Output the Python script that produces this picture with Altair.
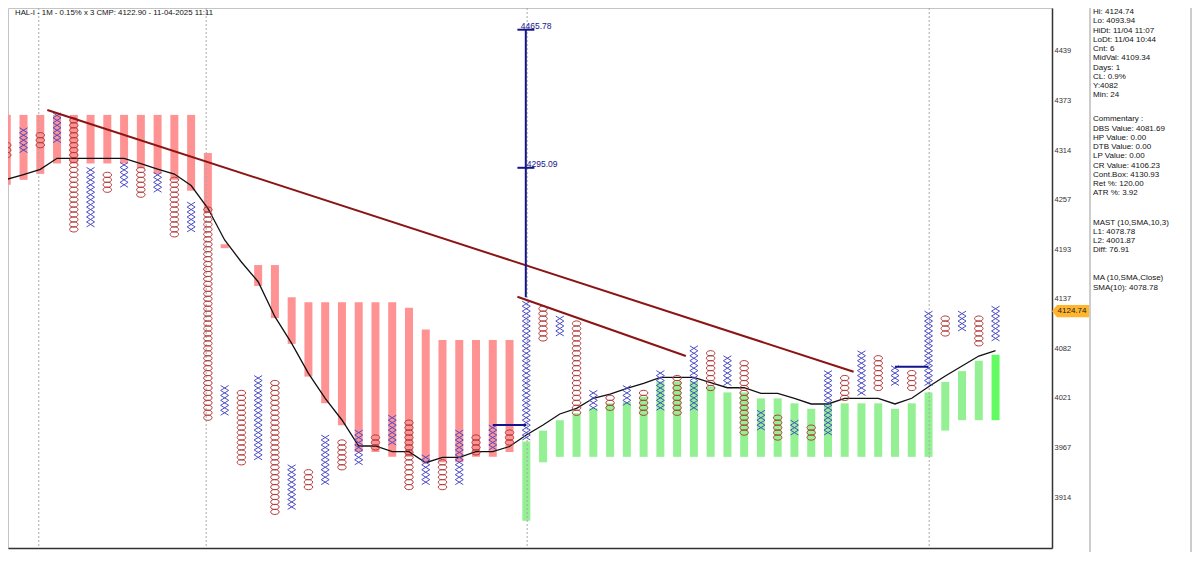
import altair as alt
import pandas as pd
import numpy as np

# ---------------- data ----------------
col_type = ["O", "X"] * 30
col_low = [69, 70, 71, 72, 54, 55, 62, 63, 61, 62, 53, 54, 16, 17, 7, 8, -3, -2, 2, 3,
           6, 7, 10, 11, 2, 3, 2, 3, 9, 10, 11, 12, 32, 33, 17, 18, 18, 19, 17, 18,
           17, 18, 22, 23, 13, 14, 12, 13, 12, 13, 20, 21, 22, 23, 22, 23, 33, 34, 31, 32]
col_high = [71, 74, 73, 77, 76, 66, 65, 67, 66, 65, 64, 59, 58, 22, 21, 24, 23, 6, 5, 12,
            11, 13, 12, 16, 15, 8, 7, 13, 12, 14, 13, 39, 38, 36, 35, 21, 20, 22, 21, 25,
            24, 30, 29, 28, 27, 17, 16, 15, 14, 25, 24, 29, 28, 26, 25, 37, 36, 37, 36, 38]

# MAST band (L1 / L2) per column, in box units
mast_hi = [77.1, 77.1, 77.1, 77.1, 77.1, 77.1, 77.1, 77.1, 77.1, 77.1, 77.1, 77.1,
           69.4, 51.0, None, 46.8, 46.8, 40.3, 39.3, 39.3, 39.3, 39.3, 39.3, 39.3,
           38.2, 33.8, 31.7, 31.7, 31.7, 31.7, 31.7,
           11.2, 13.4, 15.5, 16.9, 17.9, 18.9, 19.2, 20.2, 23.3, 23.3, 23.3, 22.3, 21.1,
           21.1, 19.9, 19.9, 18.9, 17.8, 18.9, 18.9, 18.9, 18.9, 17.8, 18.9, 21.1, 23.2,
           25.4, 27.5, 28.7]
mast_lo = [63.0, 64.0, 65.2, 67.3, 67.3, 67.3, 67.3, 67.3, 66.3, 65.2, 64.0, 61.8,
           57.3, 50.2, None, 42.6, 36.1, 30.9, 24.3, 18.9, 14.5, 9.1, 9.1, 8.1,
           8.1, 6.9, 7.0, 7.0, 8.1, 8.1, 9.1,
           -4.8, 7.0, 8.1, 8.1, 8.1, 8.1, 8.1, 8.1, 8.1, 8.1, 8.1, 8.1, 8.1,
           8.1, 8.1, 8.1, 8.1, 8.1, 8.1, 8.1, 8.1, 8.1, 8.1, 8.1, 8.1, 13.4,
           15.5, 15.5, 15.5]
mast_state = ["dn"] * 31 + ["up"] * 28 + ["cur"]

sma10 = [64.10, 65.07, 66.12, 68.34, 68.34, 68.34, 68.34, 68.34, 67.25, 66.18, 65.17, 62.85,
         58.25, 51.86, 47.42, 43.44, 36.38, 31.01, 24.96, 19.92, 15.54, 10.29, 10.29, 9.14,
         9.14, 6.92, 8.01, 8.01, 9.14, 9.14, 10.19, 12.51, 14.53, 16.75, 17.90, 19.92, 20.78,
         21.93, 22.94, 24.15, 24.15, 24.15, 23.06, 22.05, 22.05, 20.92, 20.92, 19.92, 18.77,
         18.77, 19.92, 19.92, 19.92, 18.77, 19.92, 22.26, 24.41, 26.43, 28.45, 29.52]

tick_labels = ["3914", "3967", "4021", "4082", "4137", "4193", "4257", "4314", "4373", "4439"]
date_breaks = [1.91, 11.9, 31.05, 55.04]

trend_x0 = [2.42, 30.47]
trend_y0 = [78.1, 40.4]
trend_x1 = [50.53, 40.52]
trend_y1 = [25.28, 28.45]

target_hi = 4465.78
target_lo = 4295.09
cmp_price = 4124.74
breakout_col0 = [29.0, 53.0]
breakout_col1 = [31.0, 55.0]
breakout_row = [14.53, 26.3]

title_text = "HAL-I - 1M - 0.15% x 3 CMP: 4122.90 - 11-04-2025 11:11"
panel_blocks = [
    ["Hi: 4124.74", "Lo: 4093.94", "HiDt: 11/04 11:07", "LoDt: 11/04 10:44", "Cnt: 6",
     "MidVal: 4109.34", "Days: 1", "CL: 0.9%", "Y:4082", "Min: 24"],
    ["Commentary :", "DBS Value:  4081.69", "HP Value: 0.00", "DTB Value: 0.00",
     "LP Value: 0.00", "CR Value: 4106.23", "Cont.Box: 4130.93", "Ret %: 120.00", "ATR %: 3.92"],
    ["MAST (10,SMA,10,3)", "L1: 4078.78", "L2: 4001.87", "Diff: 76.91"],
    ["MA (10,SMA,Close)", "SMA(10): 4078.78"],
]


def row_of(p):
    return float(np.log(p / 3914.0) / 0.0013987)


# ---------------- frames ----------------
W, H = 1044, 540
FONT = "Liberation Sans"
xscale = alt.Scale(domain=[0.372, 62.07], nice=False, zero=False)
yscale = alt.Scale(domain=[-10.29, 98.67], nice=False, zero=False)

yaxis = alt.Axis(orient="right", values=list(range(0, 100, 10)),
                 labelExpr="[" + ",".join(f"'{s}'" for s in tick_labels) + "][round(datum.value/10)]",
                 ticks=False, domain=True, domainColor="#333333", domainWidth=1.5, grid=False,
                 title=None, labelFontSize=7.5, labelColor="#333333", labelFont=FONT,
                 labelPadding=2, labelBaseline="middle", labelAlign="left")
xaxis = alt.Axis(orient="bottom", labels=False, ticks=False, domain=True, domainColor="#333333",
                 domainWidth=1.5, grid=False, title=None)


def X(f):
    return alt.X(f, type="quantitative", scale=xscale, axis=xaxis)


def Y(f):
    return alt.Y(f, type="quantitative", scale=yscale, axis=yaxis)


sym = []
for i, (t, lo, hi) in enumerate(zip(col_type, col_low, col_high)):
    for r in range(lo, hi + 1):
        sym.append({"col": i, "row": r, "kind": t})
sym = pd.DataFrame(sym)

colors = {"dn": "#ff9393", "up": "#93f193", "cur": "#62fb62"}
mast = pd.DataFrame({"col": range(60), "hi": mast_hi, "lo": mast_lo,
                     "c": [colors[s] for s in mast_state]}).dropna()
sma = pd.DataFrame({"col": range(60), "v": sma10})
trend = pd.DataFrame({"x0": trend_x0, "y0": trend_y0, "x1": trend_x1, "y1": trend_y1})

r_hi, r_lo = row_of(target_hi), row_of(target_lo)
blue = pd.DataFrame({
    "x0": [30.97, 30.47, 30.47] + breakout_col0,
    "x1": [30.97, 31.48, 31.48] + breakout_col1,
    "y0": [r_hi, r_hi, r_lo] + breakout_row,
    "y1": [40.3, r_hi, r_lo] + breakout_row,
})
blue_txt = pd.DataFrame({"x": [30.67, 31.03], "y": [r_hi, r_lo],
                         "t": [f"{target_hi:.2f}", f"{target_lo:.2f}"]})
one = pd.DataFrame({"k": [0]})
tag = pd.DataFrame({"row": [row_of(cmp_price)], "t": [f"{cmp_price:.2f}"]})

# ---------------- layers ----------------
panel_bg = alt.Chart(one).mark_rect(fill="white", stroke="#9a9a9a", strokeWidth=1).encode(
    x=alt.value(1082), x2=alt.value(1183), y=alt.value(-5), y2=alt.value(560))

bars = alt.Chart(mast).mark_bar(size=8, clip=True).encode(
    x=X("col"), y=Y("hi"), y2="lo", color=alt.Color("c:N", scale=None))

dates = alt.Chart(pd.DataFrame({"col": date_breaks})).mark_rule(
    color="#a8a8a8", strokeDash=[2, 2], strokeWidth=1, clip=True).encode(x=X("col"))

sma_line = alt.Chart(sma).mark_line(color="#111111", strokeWidth=1.3, clip=True).encode(
    x=X("col"), y=Y("v"))

X_PATH = "M -1 -0.62 L 1 0.62 M -1 0.62 L 1 -0.62"
O_PATH = "M -1 0 A 1 0.62 0 1 0 1 0 A 1 0.62 0 1 0 -1 0 Z"
xs = alt.Chart(sym[sym.kind == "X"]).mark_point(
    shape=X_PATH, size=64, filled=False, color="#4d4dc8", strokeWidth=1, opacity=1, clip=True
).encode(x=X("col"), y=Y("row"))
os_ = alt.Chart(sym[sym.kind == "O"]).mark_point(
    shape=O_PATH, size=72, filled=False, color="#b23a3a", strokeWidth=1, opacity=1, clip=True
).encode(x=X("col"), y=Y("row"))

trend_l = alt.Chart(trend).mark_rule(color="#8b1414", strokeWidth=2, clip=True).encode(
    x=X("x0"), y=Y("y0"), x2="x1", y2="y1")
blue_l = alt.Chart(blue).mark_rule(color="#14148c", strokeWidth=2, clip=True).encode(
    x=X("x0"), y=Y("y0"), x2="x1", y2="y1")
blue_t = alt.Chart(blue_txt).mark_text(
    color="#14148c", fontSize=8.5, font=FONT, align="left", baseline="bottom", dy=1
).encode(x=X("x"), y=Y("y"), text="t:N")

TAG_PATH = "M -1 0 L -0.73 -0.33 L 1 -0.33 L 1 0.33 L -0.73 0.33 Z"
tag_shape = alt.Chart(tag).mark_point(
    shape=TAG_PATH, size=1369, filled=True, color="#ffb52e", opacity=1, strokeWidth=0
).encode(x=alt.value(1062.5), y=Y("row"))
tag_text = alt.Chart(tag).mark_text(
    fontSize=8, font=FONT, color="#222222", align="center", baseline="middle"
).encode(x=alt.value(1064), y=Y("row"), text="t:N")

title = alt.Chart(one).mark_text(
    text=title_text, fontSize=7.8, font=FONT, color="#111111", align="left", baseline="top"
).encode(x=alt.value(7), y=alt.value(0.5))

panel_layers = []
starts = [4, 111.3, 214.7, 270.3]
for blk, y0 in zip(panel_blocks, starts):
    panel_layers.append(alt.Chart(one).mark_text(
        text=blk, fontSize=8, font=FONT, color="#111111", align="left", baseline="middle",
        lineHeight=9.25
    ).encode(x=alt.value(1085), y=alt.value(y0)))

chart = alt.layer(
    panel_bg, bars, dates, sma_line, xs, os_, trend_l, blue_l, blue_t,
    tag_shape, tag_text, title, *panel_layers
).properties(
    width=W, height=H,
    autosize=alt.AutoSizeParams(type="none"),
    padding={"left": 0, "top": 0, "right": 140, "bottom": 4},
    background="white",
).configure_view(stroke="#c4c4c4", strokeWidth=1)

chart.save("out.html", embed_options={"renderer": "svg", "actions": False})
